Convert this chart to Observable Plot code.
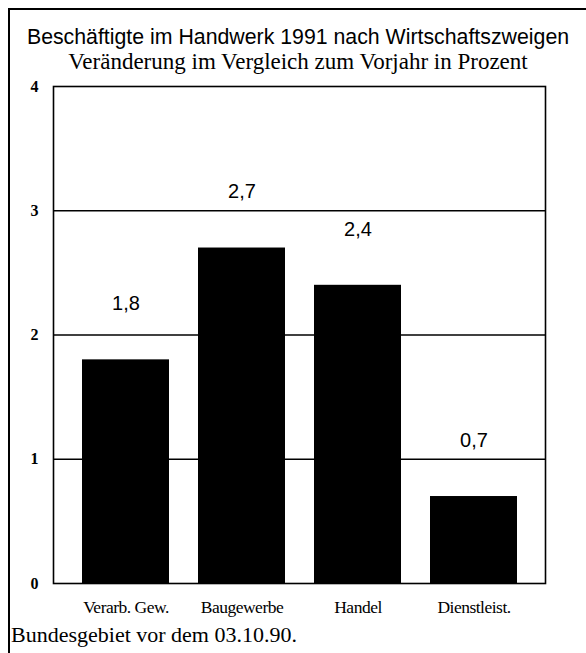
<!DOCTYPE html>
<html>
<head>
<meta charset="utf-8">
<script src="https://cdn.jsdelivr.net/npm/d3@7"></script>
<script src="https://cdn.jsdelivr.net/npm/@observablehq/plot@0.6"></script>
<style>
  html, body { margin: 0; padding: 0; background: #fff; }
  #wrap { position: relative; width: 586px; height: 653px; overflow: hidden; background: #fff; }
  #wrap svg { position: absolute; left: 0; top: 0; }
  .abs { position: absolute; white-space: nowrap; color: #000; }
  #wrap svg g[aria-label="y-axis tick label"] text { font: bold 16px "Liberation Serif"; }
  #wrap svg g[aria-label="x-axis tick label"] text { font: 17.5px "Liberation Serif"; letter-spacing: -0.5px; }
  #wrap svg g[aria-label="text"] text { font: 20px "Liberation Sans"; }
</style>
</head>
<body>
<div id="wrap">
  <div class="abs" style="left:8px;top:8px;width:578px;height:2px;background:#000;"></div>
  <div class="abs" style="left:8px;top:8px;width:2px;height:645px;background:#000;"></div>
  <div class="abs" id="title" style="left:10px;width:576px;top:27px;line-height:1;text-align:center;font:21.3px/1 'Liberation Sans';">Beschäftigte im Handwerk 1991 nach Wirtschaftszweigen</div>
  <div class="abs" id="subtitle" style="left:10px;width:576px;top:50px;text-align:center;font:23px/1 'Liberation Serif';">Veränderung im Vergleich zum Vorjahr in Prozent</div>
  <div class="abs" id="caption" style="left:11px;top:622px;font:22px 'Liberation Serif';">Bundesgebiet vor dem 03.10.90.</div>
</div>
<script>
const categories = ["Verarb. Gew.", "Baugewerbe", "Handel", "Dienstleist."];
const values = [1.8, 2.7, 2.4, 0.7];
const yTicks = [0, 1, 2, 3, 4];
const gridValues = [1, 2, 3];

const data = categories.map((c, i) => ({category: c, value: values[i], label: String(values[i]).replace(".", ",")}));

const chart = Plot.plot({
  width: 586,
  height: 653,
  marginTop: 86,
  marginLeft: 53,
  marginRight: 41,
  marginBottom: 70,
  style: {background: "transparent", color: "#000"},
  x: {domain: categories, paddingInner: 0.25, paddingOuter: 0.24, label: null},
  y: {domain: [0, 4], label: null},
  marks: [
    Plot.ruleY(gridValues, {stroke: "#000", strokeWidth: 1.6}),
    Plot.barY(data, {x: "category", y: "value", fill: "#000"}),
    Plot.text(data, {x: "category", y: "value", text: "label", dy: -56, fill: "#000"}),
    Plot.frame({stroke: "#000", strokeWidth: 1.6}),
    Plot.axisY({ticks: yTicks, tickSize: 0, tickPadding: 15, tickFormat: d => String(d)}),
    Plot.axisX({tickSize: 0, tickPadding: 17})
  ]
});
document.getElementById("wrap").prepend(chart);
</script>
</body>
</html>
